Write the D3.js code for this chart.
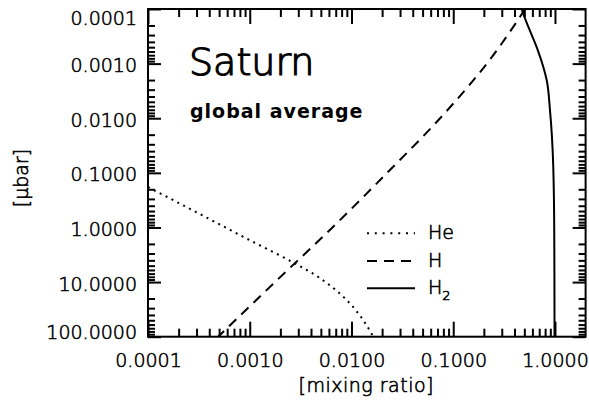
<!DOCTYPE html>
<html>
<head>
<meta charset="utf-8">
<script src="https://cdn.jsdelivr.net/npm/d3@7"></script>
<style>
  html, body { margin: 0; padding: 0; background: #fff; }
  svg { display: block; font-family: "DejaVu Sans", sans-serif; }
  .thin { font-weight: 200; fill: #000; stroke: #000; stroke-width: 0.6px; }
  .title { font-weight: 200; fill: #000; stroke: #000; stroke-width: 1.2px; }
</style>
</head>
<body>
<svg id="chart" width="589" height="402"></svg>
<script>
// Axis ticks and labels
const xTickValues = [1e-4, 1e-3, 1e-2, 1e-1, 1];
const xTickLabels = ["0.0001", "0.0010", "0.0100", "0.1000", "1.0000"];
const yTickValues = [1e-4, 1e-3, 1e-2, 1e-1, 1, 10, 100];
const yTickLabels = ["0.0001", "0.0010", "0.0100", "0.1000", "1.0000", "10.0000", "100.0000"];

// He mixing ratio profile (pressure in μbar)
const hePressure = [0.182, 0.568, 1.70, 4.56, 7.38, 12.29, 22.57, 41.1, 68.1, 100];
const heRatio    = [1.0e-4, 3.24e-4, 9.94e-4, 2.784e-3, 4.378e-3, 6.43e-3, 9.24e-3, 1.212e-2, 1.453e-2, 1.638e-2];

// H mixing ratio profile
const hPressure = [100, 10, 1, 0.1, 0.01, 0.001, 1e-4];
const hRatio    = [4.9e-4, 1.77e-3, 6.5e-3, 0.0224, 0.0743, 0.214, 0.51];

// H2 mixing ratio profile
const h2Pressure = [1e-4, 1.6e-4, 2.8e-4, 5.6e-4, 1.14e-3, 2.0e-3, 7.1e-3, 0.077, 1.28, 100];
const h2Ratio    = [0.47, 0.515, 0.582, 0.676, 0.767, 0.829, 0.893, 0.962, 0.984, 0.99];

const svg = d3.select("#chart");

const x = d3.scaleLog().domain([1e-4, 2]).range([148, 585.6]);
const y = d3.scaleLog().domain([1e-4, 100]).range([9, 336.7]);

const [x0, x1] = x.range();
const [y0, y1] = y.range();

function minorTicks(lo, hi) {
  const out = [];
  for (let e = Math.floor(Math.log10(lo)); e <= Math.ceil(Math.log10(hi)); e++) {
    for (let m = 2; m <= 9; m++) {
      const v = m * Math.pow(10, e);
      if (v > lo * 1.0001 && v < hi * 0.9999) out.push(v);
    }
  }
  return out;
}
const xMinor = minorTicks(1e-4, 2);
const yMinor = minorTicks(1e-4, 100);

function styleAxis(g) {
  g.select(".domain").remove();
  g.selectAll(".tick line").attr("stroke", "#000").attr("stroke-width", 2);
  g.selectAll(".tick text")
    .attr("class", "thin")
    .attr("font-family", "DejaVu Sans, sans-serif")
    .attr("font-size", 19);
  g.attr("font-family", null).attr("font-size", null);
  return g;
}

// bottom axis (labels) + minor ticks
const gxb = svg.append("g").attr("transform", `translate(0,${y1})`)
  .call(d3.axisBottom(x).tickValues(xTickValues)
    .tickFormat((d, i) => xTickLabels[i])
    .tickSizeInner(-15).tickSizeOuter(0).tickPadding(16.5));
styleAxis(gxb);
styleAxis(svg.append("g").attr("transform", `translate(0,${y1})`)
  .call(d3.axisBottom(x).tickValues(xMinor).tickFormat("").tickSizeInner(-8).tickSizeOuter(0)));

// top axis (mirrored ticks)
styleAxis(svg.append("g").attr("transform", `translate(0,${y0})`)
  .call(d3.axisTop(x).tickValues(xTickValues).tickFormat("").tickSizeInner(-15).tickSizeOuter(0)));
styleAxis(svg.append("g").attr("transform", `translate(0,${y0})`)
  .call(d3.axisTop(x).tickValues(xMinor).tickFormat("").tickSizeInner(-8).tickSizeOuter(0)));

// left axis (labels) + minor ticks
const gyl = svg.append("g").attr("transform", `translate(${x0},0)`)
  .call(d3.axisLeft(y).tickValues(yTickValues)
    .tickFormat((d, i) => yTickLabels[i])
    .tickSizeInner(-13).tickSizeOuter(0).tickPadding(11));
styleAxis(gyl);
gyl.selectAll(".tick text").attr("dy", (d, i) => {
  if (i === 0) return "0.82em";
  if (i === yTickValues.length - 1) return "0.12em";
  return "0.42em";
});
styleAxis(svg.append("g").attr("transform", `translate(${x0},0)`)
  .call(d3.axisLeft(y).tickValues(yMinor).tickFormat("").tickSizeInner(-7).tickSizeOuter(0)));

// right axis (mirrored ticks)
styleAxis(svg.append("g").attr("transform", `translate(${x1},0)`)
  .call(d3.axisRight(y).tickValues(yTickValues).tickFormat("").tickSizeInner(-13).tickSizeOuter(0)));
styleAxis(svg.append("g").attr("transform", `translate(${x1},0)`)
  .call(d3.axisRight(y).tickValues(yMinor).tickFormat("").tickSizeInner(-7).tickSizeOuter(0)));

// frame
svg.append("rect")
  .attr("x", x0).attr("y", y0)
  .attr("width", x1 - x0).attr("height", y1 - y0)
  .attr("fill", "none").attr("stroke", "#000").attr("stroke-width", 2);

// clip for profiles
svg.append("clipPath").attr("id", "plotClip")
  .append("rect").attr("x", x0).attr("y", y0).attr("width", x1 - x0).attr("height", y1 - y0);

const line = d3.line()
  .x(d => x(d[0]))
  .y(d => y(d[1]))
  .curve(d3.curveMonotoneY);

const series = [
  { name: "He", ratio: heRatio, pressure: hePressure, dash: "2 4.6", legendDash: "2 5.8" },
  { name: "H",  ratio: hRatio,  pressure: hPressure,  dash: "10 7",  legendDash: "10 7" },
  { name: "H2", ratio: h2Ratio, pressure: h2Pressure, dash: null,    legendDash: null }
];

const plot = svg.append("g").attr("clip-path", "url(#plotClip)");
series.forEach(s => {
  const pts = s.ratio.map((r, i) => [r, s.pressure[i]]).sort((a, b) => a[1] - b[1]);
  plot.append("path")
    .attr("d", line(pts))
    .attr("fill", "none")
    .attr("stroke", "#000")
    .attr("stroke-width", 2)
    .attr("stroke-dasharray", s.dash);
});

// titles
svg.append("text").attr("class", "title").attr("x", 189).attr("y", 75)
  .attr("font-size", 38).text("Saturn");
svg.append("text").attr("x", 190).attr("y", 118)
  .attr("font-size", 19).attr("font-weight", "bold").attr("letter-spacing", 1)
  .attr("fill", "#000").text("global average");

// axis titles
svg.append("text").attr("class", "thin")
  .attr("x", (x0 + x1) / 2 - 0.5).attr("y", 391.5)
  .attr("text-anchor", "middle").attr("font-size", 19).attr("letter-spacing", 0.5)
  .text("[mixing ratio]");
svg.append("text").attr("class", "thin")
  .attr("transform", "translate(28,178) rotate(-90)")
  .attr("text-anchor", "middle").attr("font-size", 19)
  .text("[μbar]");

// legend
const legendRows = [233.3, 261, 288.3];
const legend = svg.append("g");
series.forEach((s, i) => {
  const ly = legendRows[i];
  legend.append("line")
    .attr("x1", 367).attr("x2", 415).attr("y1", ly).attr("y2", ly)
    .attr("stroke", "#000").attr("stroke-width", 2)
    .attr("stroke-dasharray", s.legendDash);
  const t = legend.append("text").attr("class", "thin").attr("x", 428).attr("y", ly + 6)
    .attr("font-size", 19);
  if (s.name === "H2") {
    t.append("tspan").text("H");
    t.append("tspan").attr("font-size", 13).attr("dy", 6).text("2");
  } else {
    t.text(s.name);
  }
});
</script>
</body>
</html>
